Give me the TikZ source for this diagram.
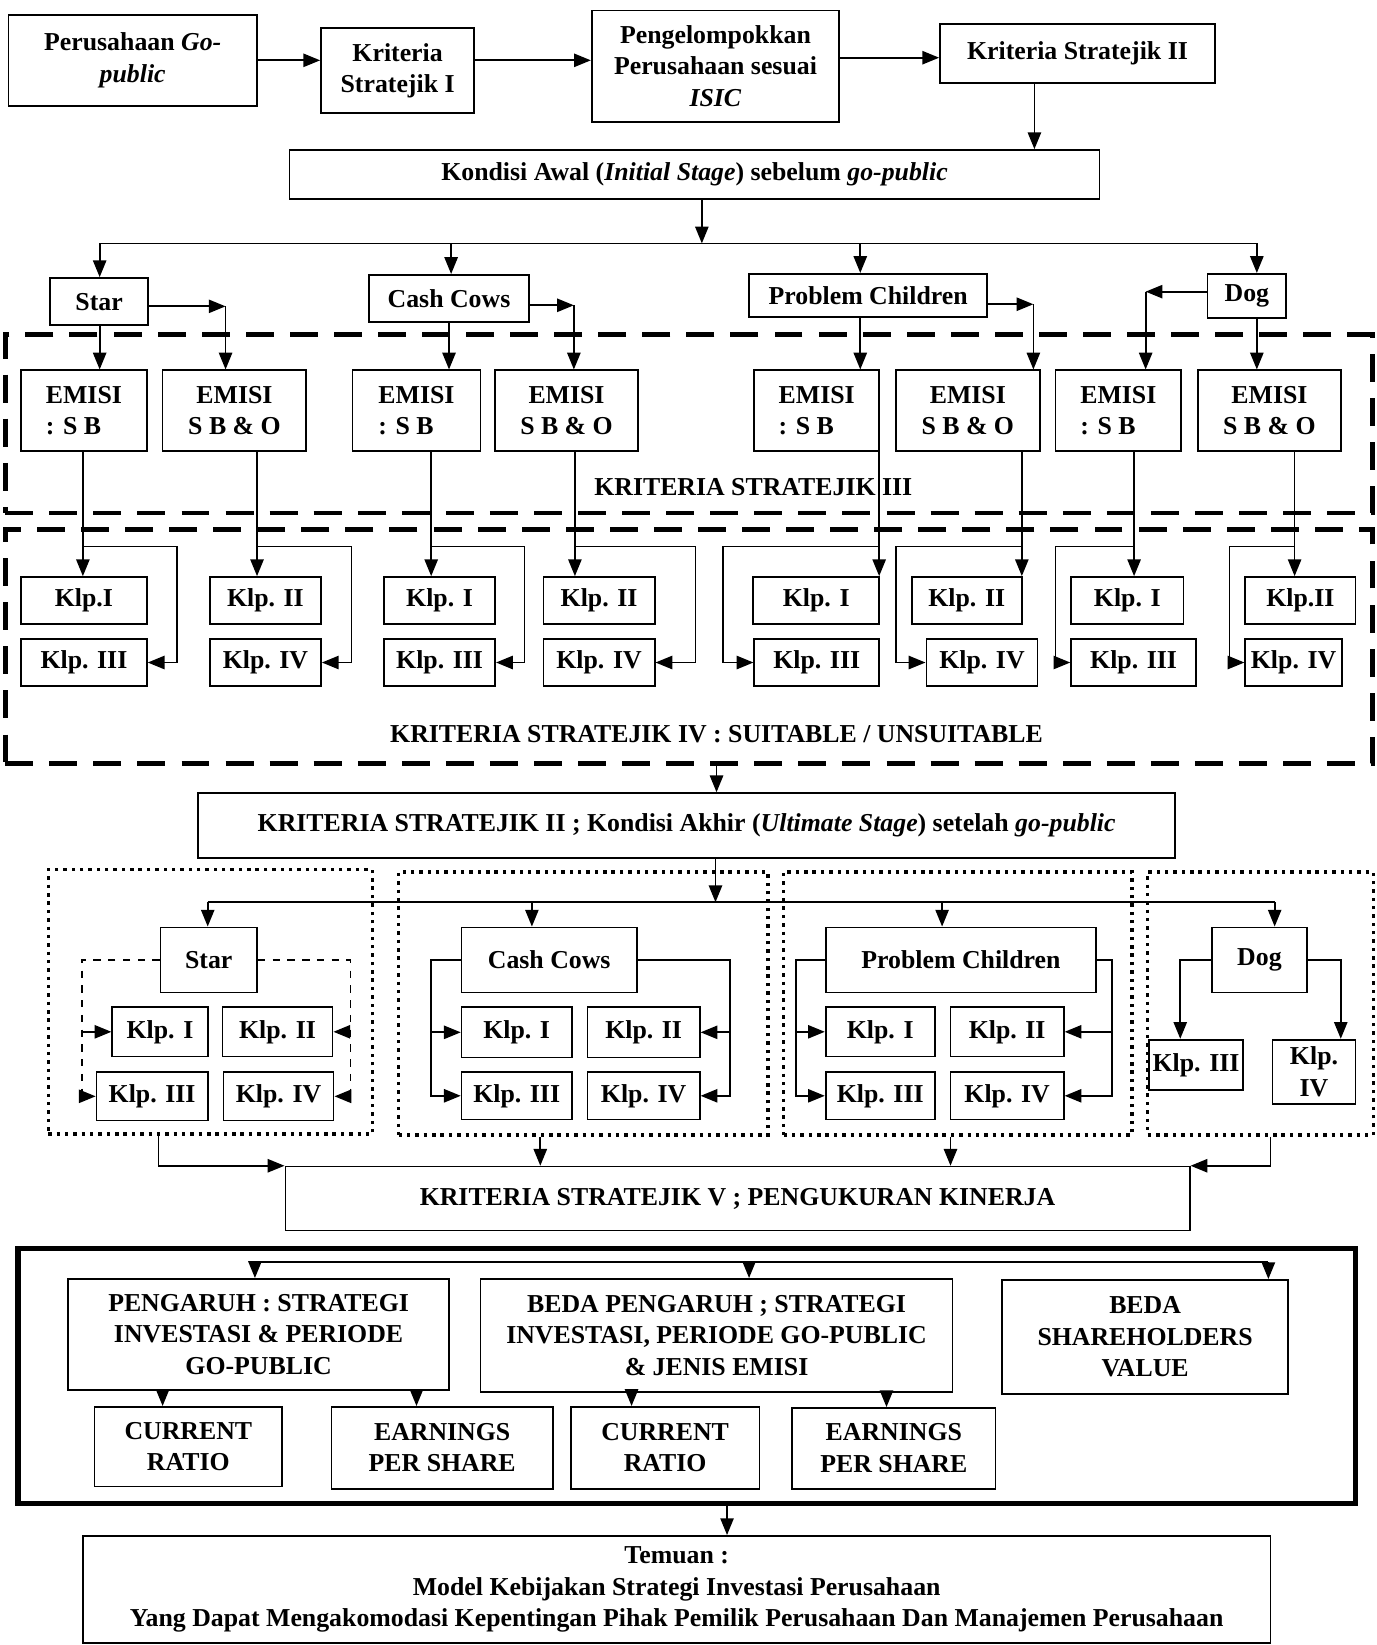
\documentclass[tikz,border=0pt]{standalone}
\usepackage{fontspec}
\setmainfont{Liberation Serif}
\usetikzlibrary{arrows.meta}

\begin{document}
\begin{tikzpicture}[x=0.15mm, y=-0.15mm,
  font=\bfseries\fontsize{10.5}{12.8}\selectfont,
  box/.style={draw, line width=0.7pt, align=center, inner sep=1pt},
  arr/.style={line width=0.7pt, -{Triangle[length=2.4mm,width=1.9mm]}},
  ln/.style={line width=0.7pt},
  grp/.style={draw, line width=1.4pt, dash pattern=on 1.4pt off 2pt, inner sep=0pt},
  krit/.style={draw, line width=2pt, dash pattern=on 4mm off 2.3mm, inner sep=0pt},
  frame/.style={draw, line width=2.2pt, inner sep=0pt}]
  \useasboundingbox (0,0) rectangle (1312,1568);

  % regions
  \foreach \n/\xa/\ya/\xb/\yb in {kr3box/5/319/1308/489, kr4box/5/505/1308/728}
    \node[krit, minimum width=(\xb-\xa)*0.15mm, minimum height=(\yb-\ya)*0.15mm]
      (\n) at ({(\xa+\xb)/2},{(\ya+\yb)/2}) {};
  \foreach \n/\xa/\ya/\xb/\yb in {gstar/46/829/355/1081, gcow/380/831/732/1082,
      gprob/747/831/1079/1082, gdog/1094/831/1309/1082}
    \node[grp, minimum width=(\xb-\xa)*0.15mm, minimum height=(\yb-\ya)*0.15mm]
      (\n) at ({(\xa+\xb)/2},{(\ya+\yb)/2}) {};
  \node[frame, minimum width=1275*0.15mm, minimum height=243*0.15mm] (hasil) at (654.5,1311.5) {};
  \node (kr3) at (718,464) {KRITERIA STRATEJIK III};
  \node (kr4) at (683,700) {KRITERIA STRATEJIK IV : SUITABLE / UNSUITABLE};

  % boxes
  \foreach \n/\xa/\ya/\xb/\yb/\txt in {
      pgo/8/14/245/101/{Perusahaan \textit{Go-}\\\textit{public}},
      ks1/306/27/452/108/{Kriteria\\Stratejik I},
      isic/564/10/800/116/{Pengelompokkan\\Perusahaan sesuai\\\textit{ISIC}},
      ks2/896/23/1158/79/{Kriteria Stratejik II},
      awal/276/143/1048/190/{Kondisi Awal (\textit{Initial Stage}) sebelum \textit{go-public}},
      star1/48/265/141/310/{Star},
      cow1/352/262/504/307/{Cash Cows},
      prob1/714/261/941/302/{Problem Children},
      dog1/1151/261/1226/303/{Dog},
      akhir/189/756/1120/818/{KRITERIA STRATEJIK II ; Kondisi Akhir (\textit{Ultimate Stage}) setelah \textit{go-public}},
      star2/153/884/245/946/{Star},
      cow2/440/884/607/946/{Cash Cows},
      prob2/787/884/1045/946/{Problem Children},
      dog2/1155/884/1246/946/{Dog},
      s1/107/960/198/1007/{Klp. I}, s2/212/960/317/1007/{Klp. II},
      s3/92/1022/198/1068/{Klp. III}, s4/213/1022/318/1068/{Klp. IV},
      c1/440/960/545/1008/{Klp. I}, c2/560/960/667/1008/{Klp. II},
      c3/440/1022/545/1067/{Klp. III}, c4/560/1022/667/1067/{Klp. IV},
      p1/787/960/891/1007/{Klp. I}, p2/906/960/1014/1007/{Klp. II},
      p3/787/1022/891/1067/{Klp. III}, p4/906/1022/1014/1067/{Klp. IV},
      d3/1095/991/1185/1039/{Klp. III}, d4/1213/991/1292/1052/{Klp.\\IV},
      krit5/272/1112/1134/1173/{KRITERIA STRATEJIK V ; PENGUKURAN KINERJA},
      peng/65/1219/428/1325/{PENGARUH : STRATEGI\\INVESTASI \& PERIODE\\GO-PUBLIC},
      beda/458/1219/908/1327/{BEDA PENGARUH ; STRATEGI\\INVESTASI, PERIODE GO-PUBLIC\\\& JENIS EMISI},
      sh/955/1220/1228/1329/{BEDA\\SHAREHOLDERS\\VALUE},
      cr1/90/1341/269/1417/{CURRENT\\RATIO},
      eps1/316/1341/527/1419/{EARNINGS\\PER SHARE},
      cr2/544/1341/724/1419/{CURRENT\\RATIO},
      eps2/755/1342/949/1419/{EARNINGS\\PER SHARE},
      tujuan/79/1464/1211/1566/{Temuan :\\Model Kebijakan Strategi Investasi Perusahaan\\Yang Dapat Mengakomodasi Kepentingan Pihak Pemilik Perusahaan Dan Manajemen Perusahaan}}
    \node[box, minimum width=(\xb-\xa)*0.15mm, minimum height=(\yb-\ya)*0.15mm]
      (\n) at ({(\xa+\xb)/2},{(\ya+\yb)/2}) {\txt};

  % emisi
  \foreach \n/\xa/\xb in {e1/20/140, e3/336/458, e5/719/838, e7/1006/1126}
    \node[box, align=left, minimum width=(\xb-\xa)*0.15mm, minimum height=77*0.15mm]
      (\n) at ({(\xa+\xb)/2},391.5) {EMISI\\: S B};
  \foreach \n/\xa/\xb in {e2/155/292, e4/472/608, e6/854/991, e8/1142/1278}
    \node[box, minimum width=(\xb-\xa)*0.15mm, minimum height=77*0.15mm]
      (\n) at ({(\xa+\xb)/2},391.5) {EMISI\\S B \& O};

  % kelompok
  \foreach \n/\xa/\xb/\txt in {ka1/20/140/Klp.I, ka2/200/306/Klp. II, ka3/366/472/Klp. I,
      ka4/518/624/Klp. II, ka5/718/838/Klp. I, ka6/869/974/Klp. II,
      ka7/1021/1128/Klp. I, ka8/1187/1292/Klp.II}
    \node[box, minimum width=(\xb-\xa)*0.15mm, minimum height=45*0.15mm]
      (\n) at ({(\xa+\xb)/2},572.5) {\txt};
  \foreach \n/\xa/\xb/\txt in {kb1/20/140/Klp. III, kb2/200/306/Klp. IV, kb3/366/472/Klp. III,
      kb4/518/624/Klp. IV, kb5/719/838/Klp. III, kb6/883/989/Klp. IV,
      kb7/1021/1140/Klp. III, kb8/1187/1279/Klp. IV}
    \node[box, minimum width=(\xb-\xa)*0.15mm, minimum height=45*0.15mm]
      (\n) at ({(\xa+\xb)/2},631.5) {\txt};

  % top chain
  \draw[arr] (pgo.east) -- (ks1.west |- pgo.east);
  \draw[arr] (ks1.east |- pgo.east) -- (isic.west |- pgo.east);
  \draw[arr] (isic.east |- 0,55) -- (ks2.west |- 0,55);
  \draw[arr] (ks2.south -| 986,0) -- (awal.north -| 986,0);

  % initial stage to BCG
  \coordinate (bus1) at (669,232);
  \draw[arr] (awal.south -| bus1) -- (bus1);
  \draw[ln] (95,232) -- (1198,232);
  \foreach \b/\x in {star1/95, cow1/430, prob1/820, dog1/1198}
    \draw[arr] (\x,232) -- (\b.north -| \x,0);

  % BCG to emisi
  \foreach \b/\e/\x in {star1/e1/95, cow1/e3/428, prob1/e5/820, dog1/e8/1198}
    \draw[arr] (\b.south -| \x,0) -- (\e.north -| \x,0);
  \foreach \b/\a/\e/\x/\y in {star1/east/e2/215/292, cow1/east/e4/547/291,
      prob1/east/e6/985/290, dog1/west/e7/1092/278} {
    \draw[arr] (\b.\a |- \x,\y) -- (\x,\y);
    \draw[arr] (\x,\y) -- (\e.north -| \x,\y);
  }

  % emisi to kelompok
  \foreach \n/\s/\b/\a in {1/79/169/east, 2/245/335/east, 3/411/500/east, 4/548/663/east,
      5/838/689/west, 6/974/854/west, 7/1081/1006/west, 8/1234/1172/west} {
    \coordinate (j\n) at (\s,521);
    \draw[arr] (e\n.south -| j\n) -- (ka\n.north -| j\n);
    \draw[arr] (j\n) -| (kb\n.\a -| \b,0) -- (kb\n.\a);
  }

  % ultimate stage
  \draw[arr] (kr4box.south -| 683,0) -- (akhir.north -| 683,0);
  \coordinate (bus2) at (682,860);
  \draw[arr] (akhir.south -| bus2) -- (bus2);
  \draw[ln] (198,860) -- (1215,860);
  \foreach \b/\x in {star2/198, cow2/507, prob2/898, dog2/1215}
    \draw[arr] (\x,860) -- (\b.north -| \x,0);

  \draw[arr, dashed] (star2.west) -| (s3.west -| 78,0) -- (s3.west);
  \draw[arr] (s1.west -| 78,0) -- (s1.west);
  \draw[arr, dashed] (star2.east) -| (s4.east -| 334,0) -- (s4.east);
  \draw[arr] (s2.east -| 334,0) -- (s2.east);
  \foreach \b/\g/\l/\r in {cow2/c/411/696, prob2/p/759/1060} {
    \draw[arr] (\b.west) -| (\g3.west -| \l,0) -- (\g3.west);
    \draw[arr] (\g1.west -| \l,0) -- (\g1.west);
    \draw[arr] (\b.east) -| (\g4.east -| \r,0) -- (\g4.east);
    \draw[arr] (\g2.east -| \r,0) -- (\g2.east);
  }
  \draw[arr] (dog2.west) -| (d3.north -| 1125,0);
  \draw[arr] (dog2.east) -| (d4.north -| 1278,0);

  % performance
  \draw[arr] (gstar.south -| 151,0) |- (krit5.north west);
  \draw[arr] (gcow.south -| 515,0) -- (krit5.north -| 515,0);
  \draw[arr] (gprob.south -| 906,0) -- (krit5.north -| 906,0);
  \draw[arr] (gdog.south -| 1211,0) |- (krit5.north east);

  % results
  \draw[ln] (243,1203) -- (1209,1203);
  \foreach \b/\x in {peng/243, beda/714, sh/1209}
    \draw[arr] (\x,1203) -- (\b.north -| \x,0);
  \foreach \b/\e/\x in {peng/cr1/155, peng/eps1/397, beda/cr2/602, beda/eps2/845}
    \draw[arr] (\b.south -| \x,0) -- (\e.north -| \x,0);
  \draw[arr] (hasil.south -| 693,0) -- (tujuan.north -| 693,0);
\end{tikzpicture}
\end{document}
